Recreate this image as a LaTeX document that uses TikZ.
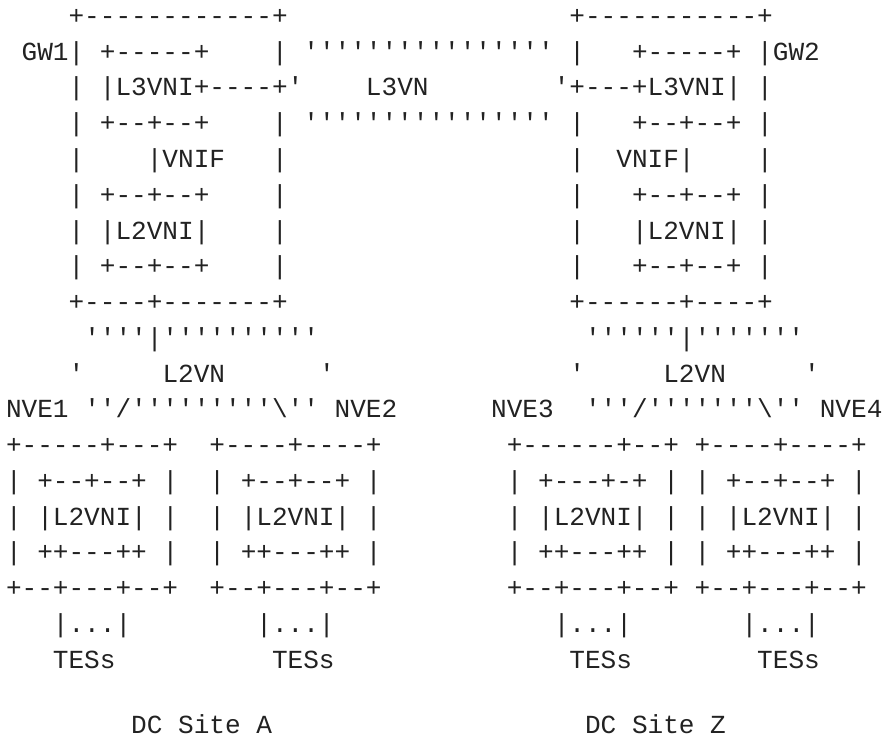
\documentclass[tikz,border=0pt]{standalone}
\usepackage{fontspec}
\setmonofont{Liberation Mono}
\definecolor{ink}{RGB}{34,34,34}
\tikzset{
  txt/.style={anchor=base west, inner sep=0pt, outer sep=0pt, text=ink,
    font=\ttfamily\fontsize{26.08}{30}\selectfont}
}
% segment of the ASCII picture: row, column, text
\newcommand\seg[3]{\node[txt] (s#1-#2) at ({6+#2*15.65},{-(24.5+#1*35.75)}) {#3};}
\newcommand\bs{\textbackslash}
\begin{document}
\begin{tikzpicture}[x=1pt,y=1pt]
\useasboundingbox (0,0) rectangle (883,-738);
% row 0
\seg{0}{4}{+------------+}
\seg{0}{36}{+-----------+}
% row 1
\seg{1}{1}{GW1|}
\seg{1}{6}{+-----+}
\seg{1}{17}{|}
\seg{1}{19}{''''''''''''''''}
\seg{1}{36}{|}
\seg{1}{40}{+-----+}
\seg{1}{48}{|GW2}
% row 2
\seg{2}{4}{|}
\seg{2}{6}{|L3VNI+----+'}
\seg{2}{23}{L3VN}
\seg{2}{35}{'+---+L3VNI|}
\seg{2}{48}{|}
% row 3
\seg{3}{4}{|}
\seg{3}{6}{+--+--+}
\seg{3}{17}{|}
\seg{3}{19}{''''''''''''''''}
\seg{3}{36}{|}
\seg{3}{40}{+--+--+}
\seg{3}{48}{|}
% row 4
\seg{4}{4}{|}
\seg{4}{9}{|VNIF}
\seg{4}{17}{|}
\seg{4}{36}{|}
\seg{4}{39}{VNIF|}
\seg{4}{48}{|}
% row 5
\seg{5}{4}{|}
\seg{5}{6}{+--+--+}
\seg{5}{17}{|}
\seg{5}{36}{|}
\seg{5}{40}{+--+--+}
\seg{5}{48}{|}
% row 6
\seg{6}{4}{|}
\seg{6}{6}{|L2VNI|}
\seg{6}{17}{|}
\seg{6}{36}{|}
\seg{6}{40}{|L2VNI|}
\seg{6}{48}{|}
% row 7
\seg{7}{4}{|}
\seg{7}{6}{+--+--+}
\seg{7}{17}{|}
\seg{7}{36}{|}
\seg{7}{40}{+--+--+}
\seg{7}{48}{|}
% row 8
\seg{8}{4}{+----+-------+}
\seg{8}{36}{+------+----+}
% row 9
\seg{9}{5}{''''|''''''''''}
\seg{9}{37}{''''''|'''''''}
% row 10
\seg{10}{4}{'}
\seg{10}{10}{L2VN}
\seg{10}{20}{'}
\seg{10}{36}{'}
\seg{10}{42}{L2VN}
\seg{10}{51}{'}
% row 11
\seg{11}{0}{NVE1}
\seg{11}{5}{''/'''''''''\bs''}
\seg{11}{21}{NVE2}
\seg{11}{31}{NVE3}
\seg{11}{37}{'''/'''''''\bs''}
\seg{11}{52}{NVE4}
% row 12
\seg{12}{0}{+-----+---+}
\seg{12}{13}{+----+----+}
\seg{12}{32}{+------+--+}
\seg{12}{44}{+----+----+}
% row 13
\seg{13}{0}{|}
\seg{13}{2}{+--+--+}
\seg{13}{10}{|}
\seg{13}{13}{|}
\seg{13}{15}{+--+--+}
\seg{13}{23}{|}
\seg{13}{32}{|}
\seg{13}{34}{+---+-+}
\seg{13}{42}{|}
\seg{13}{44}{|}
\seg{13}{46}{+--+--+}
\seg{13}{54}{|}
% row 14
\seg{14}{0}{|}
\seg{14}{2}{|L2VNI|}
\seg{14}{10}{|}
\seg{14}{13}{|}
\seg{14}{15}{|L2VNI|}
\seg{14}{23}{|}
\seg{14}{32}{|}
\seg{14}{34}{|L2VNI|}
\seg{14}{42}{|}
\seg{14}{44}{|}
\seg{14}{46}{|L2VNI|}
\seg{14}{54}{|}
% row 15
\seg{15}{0}{|}
\seg{15}{2}{++---++}
\seg{15}{10}{|}
\seg{15}{13}{|}
\seg{15}{15}{++---++}
\seg{15}{23}{|}
\seg{15}{32}{|}
\seg{15}{34}{++---++}
\seg{15}{42}{|}
\seg{15}{44}{|}
\seg{15}{46}{++---++}
\seg{15}{54}{|}
% row 16
\seg{16}{0}{+--+---+--+}
\seg{16}{13}{+--+---+--+}
\seg{16}{32}{+--+---+--+}
\seg{16}{44}{+--+---+--+}
% row 17
\seg{17}{3}{|...|}
\seg{17}{16}{|...|}
\seg{17}{35}{|...|}
\seg{17}{47}{|...|}
% row 18
\seg{18}{3}{TESs}
\seg{18}{17}{TESs}
\seg{18}{36}{TESs}
\seg{18}{48}{TESs}
% site labels
\node[txt] (siteA) at ({6+8*15.65},-733) {DC~Site~A};
\node[txt] (siteZ) at ({6+37*15.65},-733) {DC~Site~Z};
\end{tikzpicture}
\end{document}
